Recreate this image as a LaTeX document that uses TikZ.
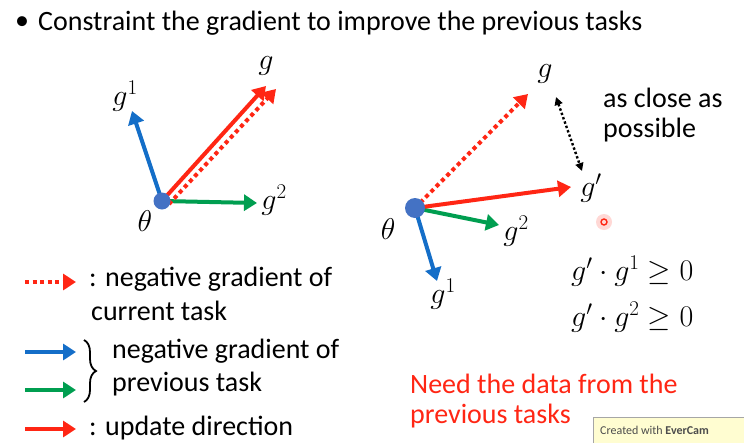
\RequirePackage{fix-cm}
\documentclass[tikz,border=0pt]{standalone}
\usepackage{fontspec}
\setmainfont{Carlito}
\usetikzlibrary{arrows.meta,decorations.pathreplacing}
\definecolor{vred}{RGB}{255,38,20}
\definecolor{vblue}{RGB}{20,110,200}
\definecolor{vgreen}{RGB}{0,158,80}
\definecolor{dotblue}{RGB}{68,114,196}
\tikzset{
  vec/.style={line width=4pt,-{Triangle[length=13pt,width=16pt]}},
  dotvec/.style={vec,dash pattern=on 4pt off 3.5pt},
  txt/.style={font=\fontsize{28}{32}\selectfont,inner sep=0pt,anchor=west},
  lbl/.style={font=\fontsize{30}{32}\selectfont,inner sep=0pt},
  origin/.style={circle,fill=dotblue,minimum size=17pt,inner sep=0pt}
}
\begin{document}
\begin{tikzpicture}[x=1pt,y=-1pt]
    \clip (0,0) rectangle (744,442);
    \fill[white] (0,0) rectangle (744,442);
    % title
    \node[txt] (bul) at (15,23) {\textbullet};
    \node[txt] (title) at (38,23) {Constraint the gradient to improve the previous tasks};
    % left picture
    \coordinate (thL) at (162,201);
    \coordinate (gLa) at (266,86);
    \coordinate (gLb) at (276,89);
    \coordinate (gLone) at (132,111);
    \coordinate (gLtwo) at (257,203);
    \draw[vblue,vec] (thL) -- (gLone);
    \draw[vgreen,vec] (thL) -- (gLtwo);
    \draw[vred,dotvec] ([xshift=7pt,yshift=-3pt]thL) -- (gLb);
    \draw[vred,vec] (thL) -- (gLa);
    \node[origin] (oL) at (thL) {};
    \node[lbl] (gL) at (266,66) {$g$};
    \node[lbl] (g1L) at (125,96) {$g^1$};
    \node[lbl] (g2L) at (274,200) {$g^2$};
    \node[lbl] (tL) at (145,221) {$\theta$};
    % right picture
    \coordinate (thR) at (415,208);
    \coordinate (gR) at (528,94);
    \coordinate (gpR) at (571,187);
    \coordinate (gRtwo) at (499,225);
    \coordinate (gRone) at (437,281);
    \coordinate (cA) at (556,97);
    \coordinate (cB) at (582,171);
    \draw[vred,dotvec] (thR) -- (gR);
    \draw[vblue,vec] (thR) -- (gRone);
    \draw[vgreen,vec] (thR) -- (gRtwo);
    \draw[vred,vec] (thR) -- (gpR);
    \draw[line width=2.4pt,dash pattern=on 2.4pt off 2.2pt,{Triangle[length=8pt,width=8pt]}-{Triangle[length=8pt,width=8pt]}] (cA) -- (cB);
    \node[origin,minimum size=20pt] (oR) at (thR) {};
    \node[lbl] (gRl) at (545,74) {$g$};
    \node[lbl] (gpRl) at (591,188) {$g'$};
    \node[lbl] (g2Rl) at (516,231) {$g^2$};
    \node[lbl] (g1Rl) at (443,294) {$g^1$};
    \node[lbl] (tR) at (388,229) {$\theta$};
    \node[txt] (close1) at (603,98) {as close as};
    \node[txt] (close2) at (603,130) {possible};
    % pointer mark
    \fill[vred!18] (604,222) circle (8);
    \draw[vred,line width=1.4pt] (604,222) circle (3);
    % constraints
    \node[lbl,anchor=west] (c1) at (571,271) {$g'\cdot g^1\geq 0$};
    \node[lbl,anchor=west] (c2) at (571,317) {$g'\cdot g^2\geq 0$};
    \node[txt,text=vred] (need1) at (410,384) {Need the data from the};
    \node[txt,text=vred] (need2) at (410,416) {previous tasks};
    % legend
    \coordinate (la) at (25,282);  \coordinate (lb) at (76,282);
    \coordinate (lc) at (25,352);  \coordinate (ld) at (76,352);
    \coordinate (le) at (25,390);  \coordinate (lf) at (76,390);
    \coordinate (lg) at (25,429);  \coordinate (lh) at (76,429);
    \draw[vred,dotvec] (la) -- (lb);
    \draw[vblue,vec] (lc) -- (ld);
    \draw[vgreen,vec] (le) -- (lf);
    \draw[vred,vec] (lg) -- (lh);
    \node[txt] (leg1) at (89,279) {: negative gradient of};
    \node[txt] (leg1b) at (91,311) {current task};
    \draw[line width=1.8pt,decorate,decoration={brace,amplitude=12pt}] (84,340) -- (84,402);
    \node[txt] (leg2) at (112,351) {negative gradient of};
    \node[txt] (leg2b) at (112,384) {previous task};
    \node[txt] (leg3) at (89,428) {: update direction};
    % recorder stamp
    \draw[gray!70,fill=yellow!18] (593,417) rectangle (760,460);
    \node[anchor=west,inner sep=0pt,font=\fontsize{12}{14}\selectfont,text=gray!60!black] (stamp) at (600,430) {Created with \textbf{EverCam}};
\end{tikzpicture}
\end{document}
